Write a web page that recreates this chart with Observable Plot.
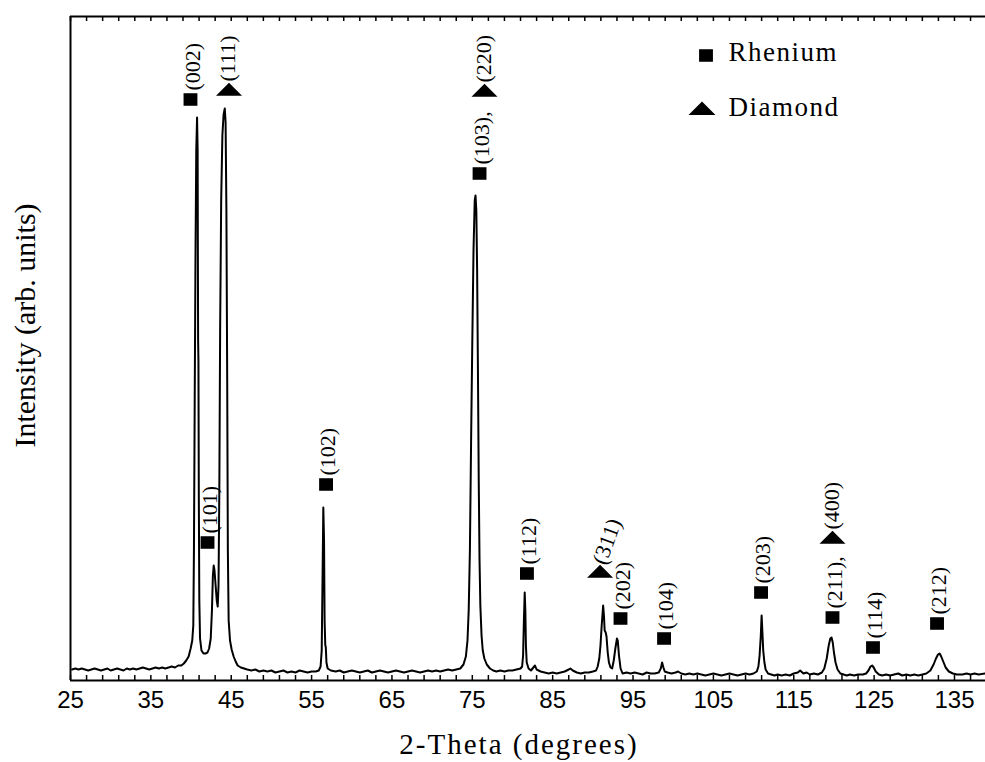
<!DOCTYPE html>
<html><head><meta charset="utf-8">
<script src="https://cdn.jsdelivr.net/npm/d3@7"></script>
<script src="https://cdn.jsdelivr.net/npm/@observablehq/plot@0.6"></script>
<style>body{margin:0;background:#fff}</style>
</head><body><div id="chart"></div>
<script>
// XRD pattern: [2-theta (deg), intensity (arb.)]
const spectrum = [
[25.2,11],[25.6,12],[26.0,11],[26.4,12],[26.8,11],[27.2,10],[27.6,11],[28.0,12],[28.4,11],[28.8,10],
[29.2,11],[29.6,12],[30.0,10],[30.4,11],[30.8,12],[31.2,11],[31.6,10],[32.0,12],[32.4,11],[32.8,12],
[33.2,11],[33.6,12],[34.0,13],[34.4,12],[34.8,11],[35.2,12],[35.6,13],[36.0,12],[36.4,13],[36.8,12],
[37.2,13],[37.6,14],[38.0,13],[38.4,15],[38.8,15],[39.1,17],[39.4,20],[39.7,24],[39.95,32],[40.15,40],
[40.28,55],[40.36,130],[40.45,270],[40.55,420],[40.65,530],[40.75,563],[40.82,530],[40.86,400],[40.88,340],[40.92,320],
[40.97,180],[41.03,80],[41.12,42],[41.3,30],[41.55,27],[41.8,27],[42.05,28],[42.25,32],[42.45,42],[42.6,70],
[42.72,105],[42.82,115],[42.92,110],[43.05,96],[43.2,80],[43.32,74],[43.42,95],[43.52,190],[43.62,350],[43.75,480],
[43.9,545],[44.05,566],[44.2,572],[44.3,558],[44.4,470],[44.5,300],[44.58,130],[44.68,60],[44.85,40],[45.05,31],
[45.3,24],[45.55,19],[45.8,15],[46.2,13],[46.6,12],[47.0,11],[47.5,10],[48.0,11],[48.5,9],[49.0,10],
[49.5,9],[50.0,10],[50.5,8],[51.0,9],[51.5,10],[52.0,8],[52.5,9],[53.0,8],[53.5,10],[54.0,9],
[54.5,8],[55.0,9],[55.5,9],[55.9,10],[56.12,14],[56.26,30],[56.36,100],[56.46,173],[56.55,140],[56.62,60],
[56.7,36],[56.77,33],[56.85,18],[57.0,12],[57.4,10],[58.0,9],[58.5,10],[59.0,8],[59.5,9],[60.0,10],
[60.5,9],[61.0,8],[61.5,9],[62.0,10],[62.5,8],[63.0,9],[63.5,10],[64.0,9],[64.5,8],[65.0,9],
[65.5,10],[66.0,9],[66.5,8],[67.0,9],[67.5,10],[68.0,9],[68.5,8],[69.0,9],[69.5,10],[70.0,9],
[70.5,10],[71.0,9],[71.5,10],[72.0,11],[72.5,10],[73.0,11],[73.5,12],[73.9,16],[74.2,24],[74.4,40],
[74.55,70],[74.7,130],[74.85,240],[75.0,340],[75.15,430],[75.3,480],[75.4,485],[75.5,470],[75.6,410],[75.7,310],
[75.8,200],[75.9,120],[76.0,75],[76.15,45],[76.3,30],[76.5,22],[76.8,16],[77.2,12],[77.6,10],[78.0,9],
[78.5,10],[79.0,9],[79.5,10],[80.0,10],[80.5,11],[81.0,12],[81.2,14],[81.32,25],[81.42,60],[81.52,88],
[81.6,70],[81.67,35],[81.77,18],[82.0,12],[82.3,10],[82.6,13],[82.8,15],[83.0,11],[83.5,9],[84.0,8],
[84.5,7],[85.0,8],[85.5,7],[86.0,8],[86.5,9],[87.0,11],[87.2,12],[87.5,10],[88.0,8],[88.5,7],
[89.0,8],[89.5,8],[90.0,9],[90.4,10],[90.6,14],[90.8,22],[90.95,35],[91.1,55],[91.28,75],[91.38,65],
[91.47,50],[91.6,48],[91.7,44],[91.85,28],[92.0,18],[92.2,13],[92.4,12],[92.6,20],[92.8,32],[93.0,42],
[93.1,40],[93.25,25],[93.45,12],[93.7,7],[94.2,8],[94.7,7],[95.2,8],[95.7,7],[96.2,6],[96.7,8],
[97.2,7],[97.7,7],[98.2,8],[98.45,12],[98.62,18],[98.78,13],[98.95,9],[99.3,8],[99.8,7],[100.3,8],
[100.6,9],[101.0,7],[101.5,6],[102.0,7],[102.5,6],[103.0,7],[103.5,6],[104.0,5],[104.5,6],[105.0,7],
[105.5,6],[106.0,5],[106.5,6],[107.0,7],[107.5,6],[108.0,5],[108.5,6],[109.0,7],[109.5,6],[110.0,7],
[110.4,9],[110.6,14],[110.75,25],[110.9,45],[111.0,65],[111.1,48],[111.2,30],[111.35,18],[111.5,11],[111.8,7],
[112.2,6],[112.6,5],[113.0,6],[113.5,5],[114.0,6],[114.5,5],[115.0,7],[115.5,8],[115.8,10],[116.2,7],
[116.6,8],[117.0,6],[117.5,7],[118.0,6],[118.5,8],[118.8,12],[119.1,22],[119.35,35],[119.55,42],[119.7,43],
[119.85,38],[120.0,28],[120.2,18],[120.45,11],[120.8,7],[121.2,6],[121.6,5],[122.0,6],[122.5,5],[123.0,6],
[123.6,6],[124.0,7],[124.3,10],[124.55,14],[124.75,15],[124.95,13],[125.2,9],[125.6,6],[126.0,5],[126.5,6],
[127.0,5],[127.5,6],[128.0,7],[128.5,5],[129.0,6],[129.5,5],[130.0,6],[130.5,5],[131.0,6],[131.5,7],
[132.0,10],[132.4,16],[132.7,22],[132.95,26],[133.15,27],[133.35,24],[133.6,19],[133.9,13],[134.3,9],[134.8,7],
[135.3,6],[136.0,6],[136.5,7],[137.0,6],[137.5,7],[138.0,6],[138.8,7]
];

// Rhenium reflections: label, 2-theta, marker height
const reLabels = ["(002)","(101)","(102)","(103),","(112)","(202)","(104)","(203)","(211),","(114)","(212)"];
const reX = [39.93, 42.05, 56.8, 75.9, 81.8, 93.44, 98.86, 110.93, 119.82, 124.86, 132.83];
const reY = [581, 138, 196, 507, 107, 62, 42, 88, 63, 33, 57];

// Diamond reflections
const diLabels = ["(111)","(220)","(311)","(400)"];
const diX = [44.72, 76.52, 90.9, 119.82];
const diY = [588, 587, 106, 140];

const xTicks = [25,35,45,55,65,75,85,95,105,115,125,135];
const minorTicks = d3.range(25, 139, 2);
const legendNames = ["Rhenium","Diamond"];

const rhenium = reLabels.map((l,i)=>({label:l, x:reX[i], y:reY[i]}));
const diamond = diLabels.map((l,i)=>({label:l, x:diX[i], y:diY[i]}));

const squareSym = {draw(ctx, size){const r=Math.sqrt(size/Math.PI); ctx.rect(-r*1.05,-r*0.95,2.1*r,1.9*r);}};
const triSym = {draw(ctx, size){const r=Math.sqrt(size/Math.PI); ctx.moveTo(-r, r*0.25); ctx.lineTo(r, r*0.25); ctx.lineTo(0, -r*0.75); ctx.closePath();}};

const serif = "'Liberation Serif','Times New Roman',serif";
const sans = "'Liberation Sans',Arial,sans-serif";

const chart = Plot.plot({
  width: 985, height: 762,
  marginLeft: 70, marginRight: 0, marginTop: 16, marginBottom: 82,
  style: {background: "#fff", color: "#000"},
  x: {domain: [25, 138.86], label: null},
  y: {domain: [0, 664], axis: null},
  marks: [
    Plot.axisX({ticks: xTicks, tickSize: 0, tickPadding: 10, fontSize: 24, fontFamily: sans, tickFormat: d => String(d), label: null}),
    Plot.ruleX(minorTicks, {x: d => d, y1: 0, y2: 5, stroke: "#000", strokeWidth: 1.5}),
    Plot.ruleX(minorTicks, {x: d => d, y1: 664, y2: 659, stroke: "#000", strokeWidth: 1.5}),
    Plot.ruleY([0, 664], {stroke: "#000", strokeWidth: 2}),
    Plot.ruleX([25], {stroke: "#000", strokeWidth: 2}),
    Plot.line(spectrum, {x: d => d[0], y: d => d[1], stroke: "#000", strokeWidth: 2, strokeLinejoin: "round"}),
    Plot.dot(rhenium, {x: "x", y: "y", symbol: squareSym, r: 6.6, fill: "#000", stroke: "none"}),
    Plot.dot(diamond, {x: "x", y: "y", symbol: triSym, r: 13, fill: "#000", stroke: "none"}),
    Plot.text(rhenium, {x: "x", y: "y", text: "label", dx: 2, dy: -9, rotate: -90, textAnchor: "start", lineAnchor: "middle", fontSize: 22, fontFamily: serif, fill: "#000"}),
    Plot.text(diamond.filter(d => d.label !== "(311)"), {x: "x", y: "y", text: "label", dx: -1, dy: -11, rotate: -90, textAnchor: "start", lineAnchor: "middle", fontSize: 22, fontFamily: serif, fill: "#000"}),
    Plot.text(diamond.filter(d => d.label === "(311)"), {x: "x", y: "y", text: "label", dx: -1, dy: -11, rotate: -70, textAnchor: "start", lineAnchor: "middle", fontSize: 22, fontFamily: serif, fill: "#000"}),
    // legend
    Plot.dot([0], {frameAnchor: "top-left", dx: 635.5, dy: 39, symbol: squareSym, r: 6.6, fill: "#000", stroke: "none"}),
    Plot.dot([0], {frameAnchor: "top-left", dx: 631.5, dy: 95, symbol: triSym, r: 13.5, fill: "#000", stroke: "none"}),
    Plot.text([legendNames[0]], {frameAnchor: "top-left", dx: 658, dy: 36, text: d => d, textAnchor: "start", lineAnchor: "middle", fontSize: 27, fontFamily: serif, fill: "#000"}),
    Plot.text([legendNames[1]], {frameAnchor: "top-left", dx: 658, dy: 91, text: d => d, textAnchor: "start", lineAnchor: "middle", fontSize: 27, fontFamily: serif, fill: "#000"}),
    // axis titles
    Plot.text(["2-Theta (degrees)"], {frameAnchor: "bottom", dx: -9, dy: 64, text: d => d, textAnchor: "middle", lineAnchor: "middle", fontSize: 29, fontFamily: serif, fill: "#000"}),
    Plot.text(["Intensity (arb. units)"], {frameAnchor: "left", dx: -45, dy: -23, rotate: -90, text: d => d, textAnchor: "middle", lineAnchor: "middle", fontSize: 30, fontFamily: serif, fill: "#000"})
  ]
});
d3.select(chart).selectAll("text").filter(function(){return this.textContent==="Rhenium"||this.textContent==="Diamond";}).style("letter-spacing","1.5px");
d3.select(chart).selectAll("text").filter(function(){return this.textContent==="2-Theta (degrees)";}).style("letter-spacing","2px");
document.getElementById("chart").appendChild(chart);
</script>
</body></html>
